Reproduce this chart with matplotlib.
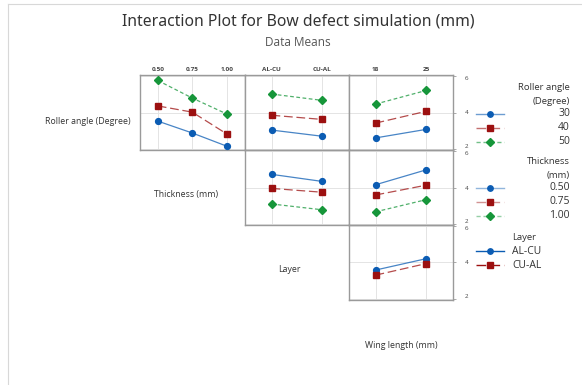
"""Interaction plot for bow defect simulation (Minitab style)."""

import matplotlib
matplotlib.use('Agg')
from matplotlib import pyplot as plt
from matplotlib.lines import Line2D

plt.rcParams['font.family'] = ['Open Sans', 'DejaVu Sans']

# Factor levels
roller_levels = ['30', '40', '50']
thickness_levels = ['0.50', '0.75', '1.00']
layer_levels = ['AL-CU', 'CU-AL']
wing_levels = ['18', '25']

# Means, one row per trace level
roller_vs_thickness = [[3.53, 2.88, 2.16],
                       [4.36, 4.02, 2.83],
                       [5.75, 4.79, 3.92]]
roller_vs_layer = [[3.04, 2.70],
                   [3.85, 3.62],
                   [5.01, 4.66]]
roller_vs_wing = [[2.61, 3.08],
                  [3.42, 4.07],
                  [4.46, 5.21]]
thickness_vs_layer = [[4.72, 4.33],
                      [3.95, 3.74],
                      [3.10, 2.78]]
thickness_vs_wing = [[4.15, 4.97],
                     [3.59, 4.13],
                     [2.67, 3.34]]
layer_vs_wing = [[3.57, 4.20],
                 [3.29, 3.93]]

factor_names = ['Roller angle (Degree)', 'Thickness (mm)', 'Layer',
                'Wing length (mm)']
y_ticks = [2, 4, 6]

W, H = 582, 385
BLUE = '#0b5cb3'
RED = '#9c1010'
GREEN = '#16963a'
STYLES = [dict(color=BLUE, ls='-', marker='o', ms=4.2),
          dict(color=RED, ls=(0, (7, 3)), marker='s', ms=4.0),
          dict(color=GREEN, ls=(0, (3, 2)), marker='D', ms=4.0)]

col_x = [139.5, 245, 349, 453]
row_y = [75, 150, 225, 299.5]


def px_rect(x0, y0, x1, y1):
    return [x0 / W, 1 - y1 / H, (x1 - x0) / W, (y1 - y0) / H]


def draw_panel(ax, levels, series, top_labels, right_ticks):
    xs = list(range(len(levels)))
    for vals, st in zip(series, STYLES):
        ax.plot(xs, vals, color=st['color'], ls=st['ls'], lw=0.9,
                alpha=0.75, zorder=3)
        ax.plot(xs, vals, color=st['color'], ls='none', marker=st['marker'],
                ms=st['ms'], zorder=4)
    pad = 0.52 if len(levels) == 2 else 0.53
    ax.set_xlim(-pad, len(levels) - 1 + pad)
    ax.set_ylim(1.95, 6.05)
    ax.set_xticks(xs)
    ax.set_yticks(y_ticks)
    ax.grid(True, color='#e4e4e4', lw=0.7, zorder=0)
    ax.tick_params(length=0)
    if top_labels:
        ax.xaxis.tick_top()
        ax.set_xticklabels(levels, fontsize=4.6, fontweight='bold',
                           color='#444444')
        ax.tick_params(axis='x', pad=2)
    else:
        ax.set_xticklabels([])
    if right_ticks:
        ax.yaxis.tick_right()
        ax.set_yticklabels([str(t) for t in y_ticks], fontsize=4.5,
                           color='#444444')
        ax.tick_params(axis='y', length=2.5, width=0.5, color='#888888',
                       pad=6)
        # keep the edge labels inside their own row
        labels = ax.get_yticklabels()
        labels[0].set_va('bottom')
        labels[-1].set_va('top')
    else:
        ax.set_yticklabels([])
    for sp in ax.spines.values():
        sp.set_color('#9a9a9a')
        sp.set_linewidth(1.0)


fig = plt.figure(figsize=(W / 100, H / 100), dpi=100)

panels = {
    (0, 0): (thickness_levels, roller_vs_thickness),
    (0, 1): (layer_levels, roller_vs_layer),
    (0, 2): (wing_levels, roller_vs_wing),
    (1, 1): (layer_levels, thickness_vs_layer),
    (1, 2): (wing_levels, thickness_vs_wing),
    (2, 2): (wing_levels, layer_vs_wing),
}
for (r, c), (levels, series) in panels.items():
    ax = fig.add_axes(px_rect(col_x[c], row_y[r], col_x[c + 1],
                              row_y[r + 1]))
    draw_panel(ax, levels, series, top_labels=(r == 0),
               right_ticks=(c == 2))

# Overlay in pixel coordinates for labels and legends
ov = fig.add_axes([0, 0, 1, 1], zorder=10)
ov.set_xlim(0, W)
ov.set_ylim(H, 0)
ov.axis('off')
ov.patch.set_alpha(0)
ov.add_line(Line2D([8, W], [3.5, 3.5], color='#d8d8d8', lw=0.8))
ov.add_line(Line2D([8, 8], [3.5, H], color='#d8d8d8', lw=0.8))

ov.text(298, 22, 'Interaction Plot for Bow defect simulation (mm)',
        ha='center', va='center', fontsize=11.3, color='#333333',
        family=['Noto Sans', 'DejaVu Sans'], fontweight='semibold')
ov.text(298, 43, 'Data Means', ha='center', va='center', fontsize=8.5,
        color='#555555')

label_pos = [(88, 121), (186, 195), (289, 270), (401, 346)]
for name, (lx, ly) in zip(factor_names, label_pos):
    ov.text(lx, ly, name, ha='center', va='center', fontsize=6.3,
            color='#333333')


def legend_block(title_lines, labels, y_title, y_first, alpha, align_right):
    tx = 570 if align_right else 512
    ha = 'right' if align_right else 'left'
    for i, t in enumerate(title_lines):
        ov.text(tx, y_title + i * 13.5, t, ha=ha, va='center',
                fontsize=6.8, color='#333333')
    for i, lab in enumerate(labels):
        st = STYLES[i]
        yy = y_first + i * 14
        ov.add_line(Line2D([476, 504], [yy, yy], color=st['color'],
                           ls=st['ls'], lw=1.0, alpha=alpha))
        ov.plot([490], [yy], color=st['color'], marker=st['marker'],
                ms=st['ms'] - 0.3, ls='none')
        ov.text(tx, yy, lab, ha=ha, va='center', fontsize=7.5,
                color='#333333')


legend_block(['Roller angle', '(Degree)'], roller_levels, 88, 114, 0.6, True)
legend_block(['Thickness', '(mm)'], thickness_levels, 162, 188, 0.45, True)
legend_block(['Layer'], layer_levels, 237, 251, 1.0, False)

fig.savefig('out.png', dpi=100)
